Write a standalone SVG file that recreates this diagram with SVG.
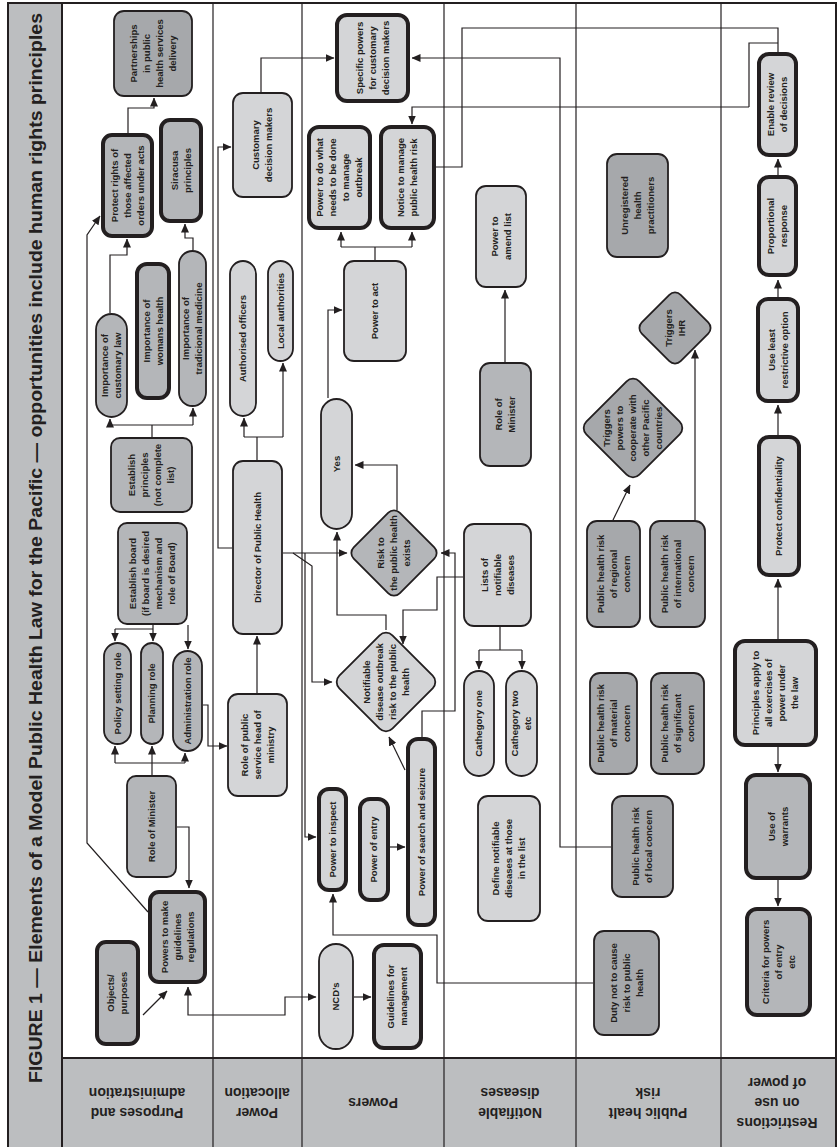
<svg xmlns="http://www.w3.org/2000/svg" width="838" height="1147" viewBox="0 0 838 1147">
<defs>
<marker id="arr" markerUnits="userSpaceOnUse" markerWidth="9" markerHeight="8" refX="8.5" refY="4" orient="auto-start-reverse"><path d="M0,0 L9,4 L0,8 z" fill="#231f20"/></marker>
<style>
.box{stroke:#231f20;stroke-width:1.8}
.thick{stroke-width:4}
.light{fill:#d4d5d7}
.med{fill:#b4b6b9}
.dark{fill:#a6a8ab}
.t{font-family:"Liberation Sans",Arial,sans-serif;font-size:9.5px;font-weight:bold;fill:#231f20;text-anchor:middle}
.lab{font-family:"Liberation Sans",Arial,sans-serif;font-size:14px;font-weight:bold;fill:#231f20;text-anchor:middle}
.c{fill:none;stroke:#231f20;stroke-width:1.2}
.a{marker-end:url(#arr)}
.lane{stroke:#231f20;stroke-width:1.2;fill:none}
</style>
</defs>
<rect x="0" y="0" width="838" height="1147" fill="#ffffff"/>
<g id="frame">
<rect x="8" y="3" width="54" height="1150" fill="#bcbec0"/>
<rect x="62" y="1058" width="774" height="95" fill="#bcbec0"/>
<rect x="8" y="3" width="828" height="1150" fill="none" stroke="#231f20" stroke-width="2"/>
<line x1="62" y1="3" x2="62" y2="1147" stroke="#231f20" stroke-width="2"/>
<line x1="62" y1="1058" x2="836" y2="1058" stroke="#231f20" stroke-width="2"/>
<line class="lane" x1="213" y1="3" x2="213" y2="1147"/>
<line class="lane" x1="302" y1="3" x2="302" y2="1147"/>
<line class="lane" x1="444" y1="3" x2="444" y2="1147"/>
<line class="lane" x1="576" y1="3" x2="576" y2="1147"/>
<line class="lane" x1="721" y1="3" x2="721" y2="1147"/>
<text transform="translate(42,1083) rotate(-90)" font-family="Liberation Sans, Arial, sans-serif" font-size="18" font-weight="bold" fill="#231f20" textLength="1070" lengthAdjust="spacingAndGlyphs">FIGURE 1 — Elements of a Model Public Health Law for the Pacific — opportunities include human rights principles</text>
</g>
<g id="lane-labels">
<text class="lab" transform="translate(137,1103) rotate(180)"><tspan x="0" y="-5">Purposes and</tspan><tspan x="0" y="15">administration</tspan></text>
<text class="lab" transform="translate(257,1103) rotate(180)"><tspan x="0" y="-5">Power</tspan><tspan x="0" y="15">allocation</tspan></text>
<text class="lab" transform="translate(373,1103) rotate(180)"><tspan x="0" y="5">Powers</tspan></text>
<text class="lab" transform="translate(510,1103) rotate(180)"><tspan x="0" y="-5">Notifiable</tspan><tspan x="0" y="15">diseases</tspan></text>
<text class="lab" transform="translate(648,1103) rotate(180)"><tspan x="0" y="-5">Public healt</tspan><tspan x="0" y="15">risk</tspan></text>
<text class="lab" transform="translate(777,1103) rotate(180)"><tspan x="0" y="-15">Restrictions</tspan><tspan x="0" y="5">on use</tspan><tspan x="0" y="25">of power</tspan></text>
</g>
<g id="connectors">
<path class="c a" d="M143,1015 L167,991"/>
<path class="c" d="M188,987 L188,1015 L285,1015 L285,997 L316,997" marker-start="url(#arr)" marker-end="url(#arr)"/>
<path class="c a" d="M354,997 H371"/>
<path class="c a" d="M177,827 H189 V888"/>
<path class="c" d="M152,775 V763 M115,763 H185"/>
<path class="c a" d="M115,763 V746"/>
<path class="c a" d="M152,763 V746"/>
<path class="c a" d="M185,763 V753"/>
<path class="c" d="M153,625 V629 M115,629 H153"/>
<path class="c a" d="M115,629 V641"/>
<path class="c a" d="M153,629 V641"/>
<path class="c a" d="M188,625 V649"/>
<path class="c a" d="M203,705 H208 V746 H227"/>
<path class="c a" d="M257,693 V636"/>
<path class="c" d="M257,460 V437 M244,437 H283"/>
<path class="c a" d="M244,437 V418"/>
<path class="c a" d="M283,437 V363"/>
<path class="c a" d="M232,548 H218 V147 H231"/>
<path class="c a" d="M261,92 V58 H334"/>
<path class="c" d="M152,437 V425 M110,425 H193"/>
<path class="c a" d="M110,425 V419"/>
<path class="c a" d="M193,425 V408"/>
<path class="c a" d="M110,313 V255 H127 V239"/>
<path class="c a" d="M193,250 V238 H185 V224"/>
<path class="c a" d="M128,133 V108 H154 V98"/>
<path class="c a" d="M148,912 L87,843 V235 L100,216"/>
<path class="c a" d="M283,553 H347"/>
<path class="c a" d="M293,553 L312,566 V682 H332"/>
<path class="c a" d="M305,553 V837 H316"/>
<path class="c a" d="M397,510 V465 H355"/>
<path class="c a" d="M386,630 V615 H337 V532"/>
<path class="c a" d="M328,398 V310 H342"/>
<path class="c" d="M375,260 V247 M341,247 H412"/>
<path class="c a" d="M341,247 V232"/>
<path class="c a" d="M412,247 V232"/>
<path class="c" d="M436,167 H462 V28 H778 V52"/>
<path class="c" d="M778,43 H749 V107"/>
<path class="c a" d="M749,107 H412 V124"/>
<path class="c a" d="M611,847 H560 V58 H412"/>
<path class="c a" d="M463,577 H437 V610 H403 V644"/>
<path class="c a" d="M422,737 V711 H455 V553 H441"/>
<path class="c a" d="M405,770 L389,737"/>
<path class="c a" d="M390,847 H405"/>
<path class="c a" d="M593,983 H437 V935 H333 V894"/>
<path class="c" d="M500,627 V650 M479,650 H522"/>
<path class="c a" d="M479,650 V669"/>
<path class="c a" d="M522,650 V669"/>
<path class="c a" d="M505,362 V290"/>
<path class="c a" d="M613,520 L630,485"/>
<path class="c a" d="M695,520 V350"/>
<path class="c a" d="M778,639 V579"/>
<path class="c a" d="M778,747 V772"/>
<path class="c a" d="M778,880 V906"/>
<path class="c a" d="M778,435 V405"/>
<path class="c a" d="M778,297 V280"/>
<path class="c a" d="M778,175 V159"/>
</g>
<g id="n-objects"><rect class="box thick med" x="97" y="942" width="41" height="102" rx="9"/><text class="t" transform="translate(117.5,993) rotate(-90)"><tspan x="0" y="-3.2">Objects/</tspan><tspan x="0" y="9.8">purposes</tspan></text></g>
<g id="n-powers-make"><rect class="box thick med" x="150" y="892" width="55" height="90" rx="9"/><text class="t" transform="translate(177.5,937) rotate(-90)"><tspan x="0" y="-9.7">Powers to make</tspan><tspan x="0" y="3.3">guidelines</tspan><tspan x="0" y="16.3">regulations</tspan></text></g>
<g id="n-role-minister-1"><rect class="box med" x="127" y="776" width="49" height="101" rx="9"/><text class="t" transform="translate(151.5,826.5) rotate(-90)"><tspan x="0" y="3.3">Role of Minister</tspan></text></g>
<g id="n-policy"><rect class="box med" x="104" y="643" width="27" height="101" rx="13.5"/><text class="t" transform="translate(117.5,693.5) rotate(-90)"><tspan x="0" y="3.3">Policy setting role</tspan></text></g>
<g id="n-planning"><rect class="box med" x="141" y="643" width="22" height="101" rx="11"/><text class="t" transform="translate(152,693.5) rotate(-90)"><tspan x="0" y="3.3">Planning role</tspan></text></g>
<g id="n-admin"><rect class="box med" x="173" y="651" width="29" height="100" rx="14.5"/><text class="t" transform="translate(187.5,701) rotate(-90)"><tspan x="0" y="3.3">Administration role</tspan></text></g>
<g id="n-est-board"><rect class="box med" x="118" y="523" width="69" height="101" rx="9"/><text class="t" transform="translate(152.5,573.5) rotate(-90)"><tspan x="0" y="-16.2">Establish board</tspan><tspan x="0" y="-3.2">(if board is desired</tspan><tspan x="0" y="9.8">mechanism and</tspan><tspan x="0" y="22.8">role of Board)</tspan></text></g>
<g id="n-est-principles"><rect class="box med" x="111" y="438" width="81" height="74" rx="9"/><text class="t" transform="translate(151.5,475) rotate(-90)"><tspan x="0" y="-16.2">Establish</tspan><tspan x="0" y="-3.2">principles</tspan><tspan x="0" y="9.8">(not complete</tspan><tspan x="0" y="22.8">list)</tspan></text></g>
<g id="n-imp-customary"><rect class="box med" x="96" y="314" width="31" height="103" rx="15.5"/><text class="t" transform="translate(111.5,365.5) rotate(-90)"><tspan x="0" y="-3.2">Importance of</tspan><tspan x="0" y="9.8">customary law</tspan></text></g>
<g id="n-imp-womens"><rect class="box thick med" x="137" y="264" width="32" height="134" rx="10"/><text class="t" transform="translate(153,331) rotate(-90)"><tspan x="0" y="-3.2">Importance of</tspan><tspan x="0" y="9.8">womans health</tspan></text></g>
<g id="n-imp-tradicional"><rect class="box med" x="179" y="251" width="27" height="155" rx="13.5"/><text class="t" transform="translate(192.5,328.5) rotate(-90)"><tspan x="0" y="-3.2">Importance of</tspan><tspan x="0" y="9.8">tradicional medicine</tspan></text></g>
<g id="n-protect-rights"><rect class="box thick med" x="103" y="135" width="49" height="101" rx="9"/><text class="t" transform="translate(127.5,185.5) rotate(-90)"><tspan x="0" y="-9.7">Protect rights of</tspan><tspan x="0" y="3.3">those affected</tspan><tspan x="0" y="16.3">orders under acts</tspan></text></g>
<g id="n-siracusa"><rect class="box thick med" x="161" y="120" width="40" height="101" rx="9"/><text class="t" transform="translate(181,170.5) rotate(-90)"><tspan x="0" y="-3.2">Siracusa</tspan><tspan x="0" y="9.8">principles</tspan></text></g>
<g id="n-partnerships"><rect class="box dark" x="114" y="11" width="78" height="85" rx="10"/><text class="t" transform="translate(153,53.5) rotate(-90)"><tspan x="0" y="-16.2">Partnerships</tspan><tspan x="0" y="-3.2">in public</tspan><tspan x="0" y="9.8">health services</tspan><tspan x="0" y="22.8">delivery</tspan></text></g>
<g id="n-customary-dm"><rect class="box light" x="233" y="93" width="59" height="104" rx="10"/><text class="t" transform="translate(262.5,145) rotate(-90)"><tspan x="0" y="-3.2">Customary</tspan><tspan x="0" y="9.8">decision makers</tspan></text></g>
<g id="n-authorised"><rect class="box light" x="230" y="261" width="26" height="155" rx="13"/><text class="t" transform="translate(243,338.5) rotate(-90)"><tspan x="0" y="3.3">Authorised officers</tspan></text></g>
<g id="n-local-auth"><rect class="box light" x="268" y="261" width="25" height="100" rx="12.5"/><text class="t" transform="translate(280.5,311) rotate(-90)"><tspan x="0" y="3.3">Local authorities</tspan></text></g>
<g id="n-director"><rect class="box light" x="233" y="461" width="49" height="173" rx="10"/><text class="t" transform="translate(257.5,547.5) rotate(-90)"><tspan x="0" y="3.3">Director of Public Health</tspan></text></g>
<g id="n-role-ps"><rect class="box light" x="228" y="694" width="59" height="102" rx="10"/><text class="t" transform="translate(257.5,745) rotate(-90)"><tspan x="0" y="-9.7">Role of public</tspan><tspan x="0" y="3.3">service head of</tspan><tspan x="0" y="16.3">ministry</tspan></text></g>
<g id="n-specific"><rect class="box thick light" x="337" y="15" width="71" height="86" rx="10"/><text class="t" transform="translate(372.5,58) rotate(-90)"><tspan x="0" y="-9.7">Specific powers</tspan><tspan x="0" y="3.3">for customary</tspan><tspan x="0" y="16.3">decision makers</tspan></text></g>
<g id="n-power-do"><rect class="box thick light" x="309" y="127" width="61" height="101" rx="10"/><text class="t" transform="translate(339.5,177.5) rotate(-90)"><tspan x="0" y="-16.2">Power to do what</tspan><tspan x="0" y="-3.2">needs to be done</tspan><tspan x="0" y="9.8">to manage</tspan><tspan x="0" y="22.8">outbreak</tspan></text></g>
<g id="n-notice"><rect class="box thick light" x="381" y="127" width="53" height="101" rx="10"/><text class="t" transform="translate(407.5,177.5) rotate(-90)"><tspan x="0" y="-3.2">Notice to manage</tspan><tspan x="0" y="9.8">public health risk</tspan></text></g>
<g id="n-power-act"><rect class="box light" x="344" y="261" width="62" height="100" rx="10"/><text class="t" transform="translate(375,311) rotate(-90)"><tspan x="0" y="3.3">Power to act</tspan></text></g>
<g id="n-yes"><rect class="box light" x="321" y="399" width="31" height="130" rx="15.5"/><text class="t" transform="translate(336.5,464) rotate(-90)"><tspan x="0" y="3.3">Yes</tspan></text></g>
<g id="n-risk"><rect class="box med" x="-32.5" y="-32.5" width="65" height="65" rx="8" transform="translate(394,553) rotate(45)"/><text class="t" transform="translate(394,553) rotate(-90)"><tspan x="0" y="-9.7">Risk to</tspan><tspan x="0" y="3.3">the public health</tspan><tspan x="0" y="16.3">exists</tspan></text></g>
<g id="n-notifiable-outbreak"><rect class="box light" x="-37.5" y="-37.5" width="75" height="75" rx="9" transform="translate(386,682) rotate(45)"/><text class="t" transform="translate(386,682) rotate(-90)"><tspan x="0" y="-16.2">Notifiable</tspan><tspan x="0" y="-3.2">disease outbreak</tspan><tspan x="0" y="9.8">risk to the public</tspan><tspan x="0" y="22.8">health</tspan></text></g>
<g id="n-inspect"><rect class="box thick light" x="319" y="789" width="27" height="101" rx="10"/><text class="t" transform="translate(332.5,839.5) rotate(-90)"><tspan x="0" y="3.3">Power to inspect</tspan></text></g>
<g id="n-entry"><rect class="box thick light" x="360" y="799" width="28" height="101" rx="10"/><text class="t" transform="translate(374,849.5) rotate(-90)"><tspan x="0" y="3.3">Power of entry</tspan></text></g>
<g id="n-search"><rect class="box thick light" x="408" y="739" width="27" height="186" rx="10"/><text class="t" transform="translate(421.5,832) rotate(-90)"><tspan x="0" y="3.3">Power of search and seizure</tspan></text></g>
<g id="n-ncd"><rect class="box light" x="319" y="944" width="34" height="105" rx="17"/><text class="t" transform="translate(336,996.5) rotate(-90)"><tspan x="0" y="3.3">NCD’s</tspan></text></g>
<g id="n-guidelines"><rect class="box thick light" x="374" y="945" width="47" height="103" rx="10"/><text class="t" transform="translate(397.5,996.5) rotate(-90)"><tspan x="0" y="-3.2">Guidelines for</tspan><tspan x="0" y="9.8">management</tspan></text></g>
<g id="n-amend"><rect class="box light" x="476" y="186" width="50" height="101" rx="10"/><text class="t" transform="translate(501,236.5) rotate(-90)"><tspan x="0" y="-3.2">Power to</tspan><tspan x="0" y="9.8">amend list</tspan></text></g>
<g id="n-role-minister-2"><rect class="box med" x="480" y="363" width="51" height="103" rx="10"/><text class="t" transform="translate(505.5,414.5) rotate(-90)"><tspan x="0" y="-3.2">Role of</tspan><tspan x="0" y="9.8">Minister</tspan></text></g>
<g id="n-lists"><rect class="box light" x="464" y="524" width="67" height="102" rx="10"/><text class="t" transform="translate(497.5,575) rotate(-90)"><tspan x="0" y="-9.7">Lists of</tspan><tspan x="0" y="3.3">notifiable</tspan><tspan x="0" y="16.3">diseases</tspan></text></g>
<g id="n-cat1"><rect class="box light" x="464" y="671" width="30" height="105" rx="15"/><text class="t" transform="translate(479,723.5) rotate(-90)"><tspan x="0" y="3.3">Cathegory one</tspan></text></g>
<g id="n-cat2"><rect class="box light" x="506" y="671" width="31" height="105" rx="15.5"/><text class="t" transform="translate(521.5,723.5) rotate(-90)"><tspan x="0" y="-3.2">Cathegory two</tspan><tspan x="0" y="9.8">etc</tspan></text></g>
<g id="n-define"><rect class="box light" x="478" y="796" width="62" height="125" rx="10"/><text class="t" transform="translate(509,858.5) rotate(-90)"><tspan x="0" y="-9.7">Define notifiable</tspan><tspan x="0" y="3.3">diseases at those</tspan><tspan x="0" y="16.3">in the list</tspan></text></g>
<g id="n-unregistered"><rect class="box dark" x="607" y="154" width="61" height="103" rx="10"/><text class="t" transform="translate(637.5,205.5) rotate(-90)"><tspan x="0" y="-9.7">Unregistered</tspan><tspan x="0" y="3.3">health</tspan><tspan x="0" y="16.3">practitioners</tspan></text></g>
<g id="n-ihr"><rect class="box dark" x="-27.5" y="-27.5" width="55" height="55" rx="8" transform="translate(675,328) rotate(45)"/><text class="t" transform="translate(675,328) rotate(-90)"><tspan x="0" y="-3.2">Triggers</tspan><tspan x="0" y="9.8">IHR</tspan></text></g>
<g id="n-cooperate"><rect class="box dark" x="-37.5" y="-37.5" width="75" height="75" rx="9" transform="translate(633,428) rotate(45)"/><text class="t" transform="translate(633,428) rotate(-90)"><tspan x="0" y="-22.7">Triggers</tspan><tspan x="0" y="-9.7">powers to</tspan><tspan x="0" y="3.3">cooperate with</tspan><tspan x="0" y="16.3">other Pacific</tspan><tspan x="0" y="29.3">countries</tspan></text></g>
<g id="n-regional"><rect class="box dark" x="587" y="521" width="53" height="106" rx="10"/><text class="t" transform="translate(613.5,574) rotate(-90)"><tspan x="0" y="-9.7">Public health risk</tspan><tspan x="0" y="3.3">of regional</tspan><tspan x="0" y="16.3">concern</tspan></text></g>
<g id="n-international"><rect class="box dark" x="650" y="521" width="55" height="106" rx="10"/><text class="t" transform="translate(677.5,574) rotate(-90)"><tspan x="0" y="-9.7">Public health risk</tspan><tspan x="0" y="3.3">of international</tspan><tspan x="0" y="16.3">concern</tspan></text></g>
<g id="n-material"><rect class="box dark" x="590" y="673" width="47" height="101" rx="10"/><text class="t" transform="translate(613.5,723.5) rotate(-90)"><tspan x="0" y="-9.7">Public health risk</tspan><tspan x="0" y="3.3">of material</tspan><tspan x="0" y="16.3">concern</tspan></text></g>
<g id="n-significant"><rect class="box dark" x="651" y="673" width="53" height="101" rx="10"/><text class="t" transform="translate(677.5,723.5) rotate(-90)"><tspan x="0" y="-9.7">Public health risk</tspan><tspan x="0" y="3.3">of significant</tspan><tspan x="0" y="16.3">concern</tspan></text></g>
<g id="n-local-concern"><rect class="box dark" x="612" y="796" width="61" height="101" rx="10"/><text class="t" transform="translate(642.5,846.5) rotate(-90)"><tspan x="0" y="-3.2">Public health risk</tspan><tspan x="0" y="9.8">of local concern</tspan></text></g>
<g id="n-duty"><rect class="box dark" x="594" y="931" width="65" height="104" rx="10"/><text class="t" transform="translate(626.5,983) rotate(-90)"><tspan x="0" y="-9.7">Duty not to cause</tspan><tspan x="0" y="3.3">risk to public</tspan><tspan x="0" y="16.3">health</tspan></text></g>
<g id="n-enable"><rect class="box thick light" x="759" y="54" width="37" height="101" rx="10"/><text class="t" transform="translate(777.5,104.5) rotate(-90)"><tspan x="0" y="-3.2">Enable review</tspan><tspan x="0" y="9.8">of decisions</tspan></text></g>
<g id="n-proportional"><rect class="box thick light" x="759" y="177" width="37" height="98" rx="10"/><text class="t" transform="translate(777.5,226) rotate(-90)"><tspan x="0" y="-3.2">Proportional</tspan><tspan x="0" y="9.8">response</tspan></text></g>
<g id="n-least"><rect class="box thick light" x="758" y="299" width="40" height="102" rx="10"/><text class="t" transform="translate(778,350) rotate(-90)"><tspan x="0" y="-3.2">Use least</tspan><tspan x="0" y="9.8">restrictive option</tspan></text></g>
<g id="n-confidentiality"><rect class="box thick light" x="759" y="437" width="40" height="138" rx="10"/><text class="t" transform="translate(779,506) rotate(-90)"><tspan x="0" y="3.3">Protect confidentiality</tspan></text></g>
<g id="n-principles"><rect class="box thick light" x="735" y="641" width="81" height="104" rx="10"/><text class="t" transform="translate(775.5,693) rotate(-90)"><tspan x="0" y="-16.2">Principles apply to</tspan><tspan x="0" y="-3.2">all exercises of</tspan><tspan x="0" y="9.8">power under</tspan><tspan x="0" y="22.8">the law</tspan></text></g>
<g id="n-warrants"><rect class="box thick med" x="746" y="775" width="64" height="103" rx="10"/><text class="t" transform="translate(778,826.5) rotate(-90)"><tspan x="0" y="-3.2">Use of</tspan><tspan x="0" y="9.8">warrants</tspan></text></g>
<g id="n-criteria"><rect class="box thick med" x="747" y="909" width="63" height="106" rx="10"/><text class="t" transform="translate(778.5,962) rotate(-90)"><tspan x="0" y="-9.7">Criteria for powers</tspan><tspan x="0" y="3.3">of entry</tspan><tspan x="0" y="16.3">etc</tspan></text></g>
</svg>
